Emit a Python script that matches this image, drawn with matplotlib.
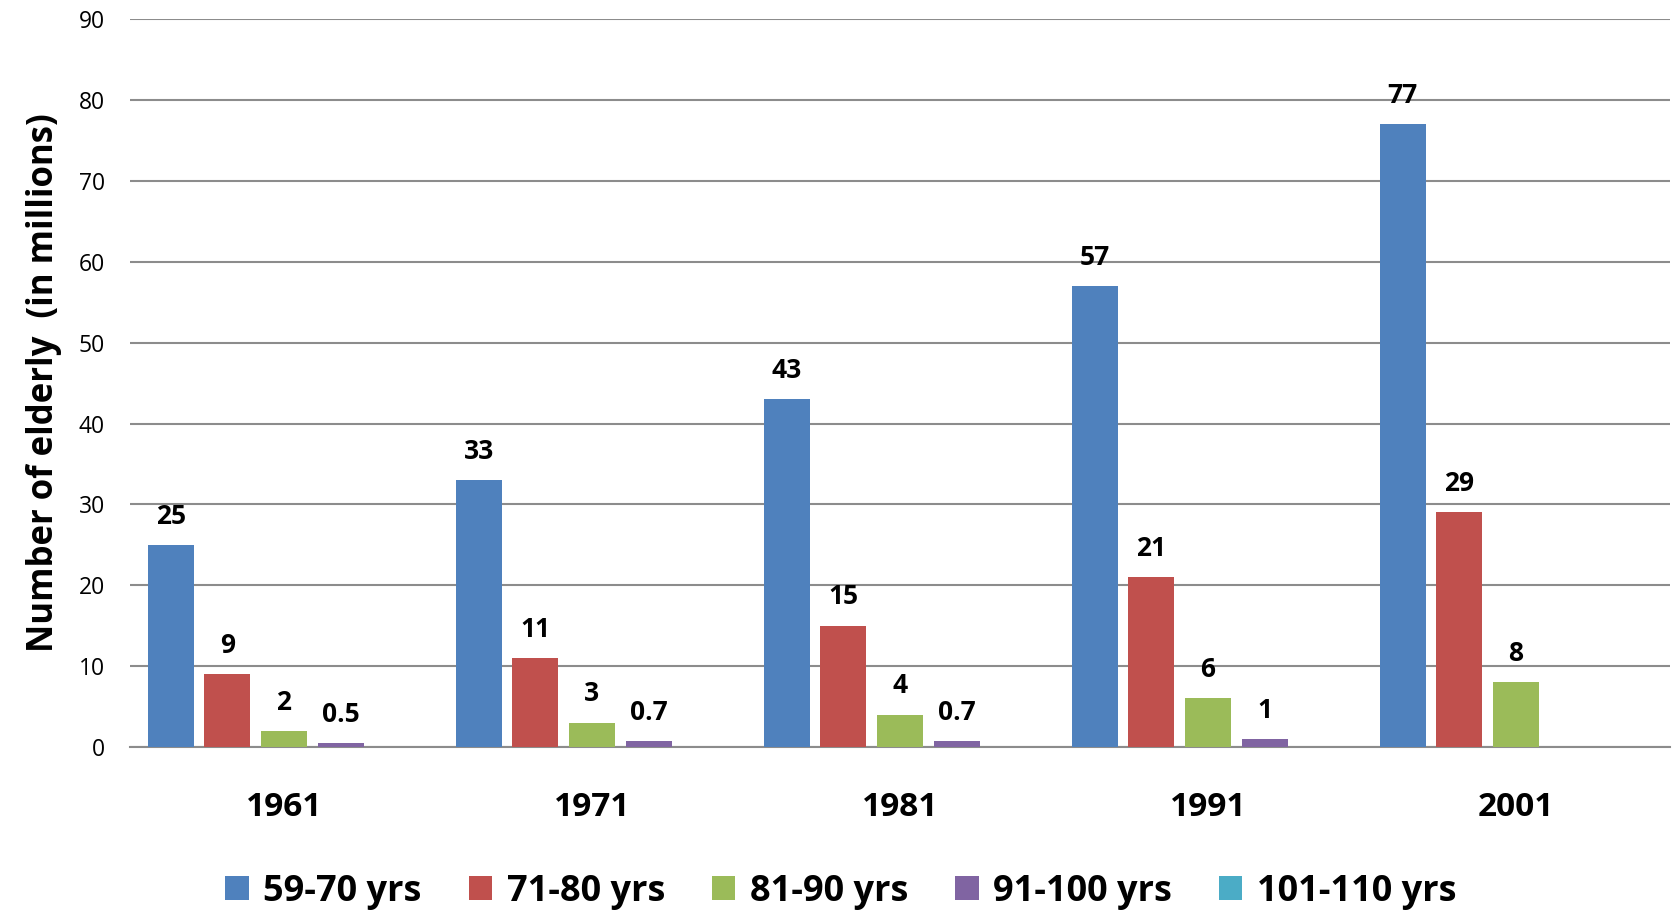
import numpy as np
import matplotlib
matplotlib.use("Agg")
import matplotlib.pyplot as plt

plt.rcParams['font.family'] = ['Open Sans', 'DejaVu Sans']

years = ["1961", "1971", "1981", "1991", "2001"]
series_names = ["59-70 yrs", "71-80 yrs", "81-90 yrs", "91-100 yrs", "101-110 yrs"]
s_59_70 = [25, 33, 43, 57, 77]
s_71_80 = [9, 11, 15, 21, 29]
s_81_90 = [2, 3, 4, 6, 8]
s_91_100 = [0.5, 0.7, 0.7, 1, np.nan]
s_101_110 = [np.nan, np.nan, np.nan, np.nan, np.nan]
colors = ["#4F81BD", "#C0504D", "#9BBB59", "#8064A2", "#4BACC6"]
yticks = [0, 10, 20, 30, 40, 50, 60, 70, 80, 90]

all_series = [s_59_70, s_71_80, s_81_90, s_91_100, s_101_110]

fig = plt.figure(figsize=(16.75, 9.14), dpi=100)
ax = fig.add_axes([0.0776, 0.1827, 0.9194, 0.7963])

x = np.arange(len(years))
step = 0.184
width = 0.15
for i, (name, vals, c) in enumerate(zip(series_names, all_series, colors)):
    offs = (i - 2) * step
    ax.bar(x + offs, vals, width, color=c, label=name, zorder=3)
    for xi, v in zip(x + offs, vals):
        if v is None or np.isnan(v):
            continue
        ax.annotate(f"{v:g}", (xi, v), xytext=(0, 11), textcoords="offset points",
                    ha="center", va="bottom", fontsize=19, fontweight="bold", color="black")

ax.set_xlim(-0.5, len(years) - 0.5)
ax.set_ylim(0, 90)
ax.set_yticks(yticks)
ax.yaxis.grid(True, color="#8c8c8c", linewidth=1.5, zorder=0)
ax.set_axisbelow(True)
for s in ["top", "right", "left"]:
    ax.spines[s].set_visible(False)
ax.spines["bottom"].set_color("#8c8c8c")
ax.spines["bottom"].set_linewidth(1.5)
ax.tick_params(axis="y", length=0, labelsize=16.5, pad=18)
ax.tick_params(axis="x", length=0, labelsize=24, pad=32)
ax.set_xticks(x)
ax.set_xticklabels(years, fontweight="bold")
ax.set_ylabel("Number of elderly  (in millions)", fontsize=25, fontweight="bold", labelpad=12)

leg = fig.legend(loc="center", bbox_to_anchor=(0.502, 0.024), ncol=5, frameon=False,
                 prop={"size": 26, "weight": "bold"}, handlelength=0.65, handleheight=0.65,
                 columnspacing=1.3, handletextpad=0.4)

fig.savefig("out.png", dpi=100)
